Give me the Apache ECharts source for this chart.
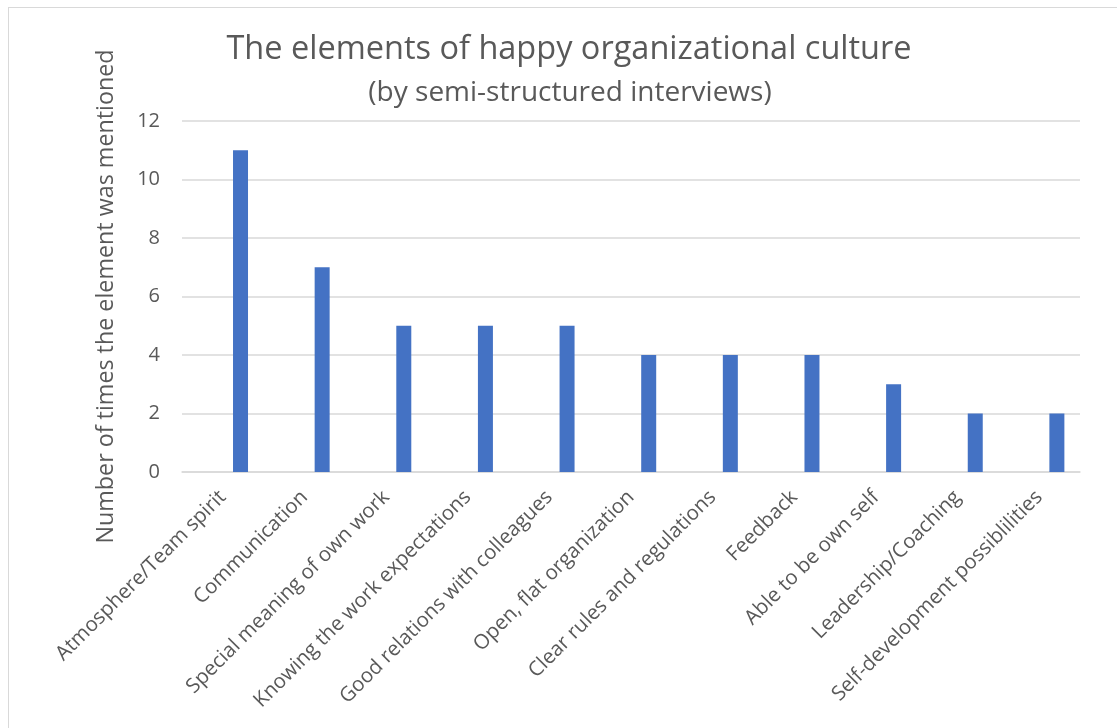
<!DOCTYPE html>
<html>
<head>
<meta charset="utf-8">
<script src="https://cdn.jsdelivr.net/npm/echarts@6/dist/echarts.min.js"></script>
<style>
html,body{margin:0;padding:0;background:#fff;overflow:hidden}
#frame{position:absolute;left:8px;top:7px;width:1200px;height:800px;border:1px solid #d9d9d9;box-sizing:border-box}
#chart{position:absolute;left:0;top:0;width:1117px;height:728px}
</style>
</head>
<body>
<div id="frame"></div>
<div id="chart"></div>
<script>
const categories = [
  'Atmosphere/Team spirit',
  'Communication',
  'Special meaning of own work',
  'Knowing the work expectations',
  'Good relations with colleagues',
  'Open, flat organization',
  'Clear rules and regulations',
  'Feedback',
  'Able to be own self',
  'Leadership/Coaching',
  'Self-development possiblilities'
];
const mentions = [11, 7, 5, 5, 5, 4, 4, 4, 3, 2, 2];
const emptySeries = categories.map(() => '-');
const titleText = 'The elements of happy organizational culture';
const subtitleText = '(by semi-structured interviews)';
const yAxisTitle = 'Number of times the element was mentioned';

const font = '"Open Sans", sans-serif';
const chart = echarts.init(document.getElementById('chart'), null, {renderer: 'canvas'});
chart.setOption({
  animation: false,
  backgroundColor: 'transparent',
  title: [
    {text: titleText, left: 564, top: 28, textAlign: 'center',
     textStyle: {fontFamily: font, fontSize: 32.5, fontWeight: 'normal', color: '#595959'}},
    {text: subtitleText, left: 565, top: 74, textAlign: 'center',
     textStyle: {fontFamily: font, fontSize: 28, fontWeight: 'normal', color: '#595959'}}
  ],
  grid: {left: 182, right: 37, top: 121, bottom: 256, containLabel: false},
  xAxis: {
    type: 'category',
    data: categories,
    axisLine: {show: true, lineStyle: {color: '#d9d9d9', width: 1.5}},
    axisTick: {show: false},
    axisLabel: {rotate: 45, interval: 0, margin: 22, fontFamily: font, fontSize: 20.4, color: '#595959'}
  },
  yAxis: {
    type: 'value',
    min: 0, max: 12, interval: 2,
    name: yAxisTitle,
    nameLocation: 'middle',
    nameGap: 64,
    nameTextStyle: {fontFamily: font, fontSize: 23.3, color: '#595959'},
    axisLine: {show: false},
    axisTick: {show: false},
    axisLabel: {fontFamily: font, fontSize: 20, color: '#595959', margin: 22},
    splitLine: {lineStyle: {color: '#d9d9d9', width: 1.5}}
  },
  series: [
    {type: 'bar', data: emptySeries, barWidth: 15, barGap: '136%'},
    {type: 'bar', data: mentions, barWidth: 15, itemStyle: {color: '#4472C4'}}
  ]
});
</script>
</body>
</html>
